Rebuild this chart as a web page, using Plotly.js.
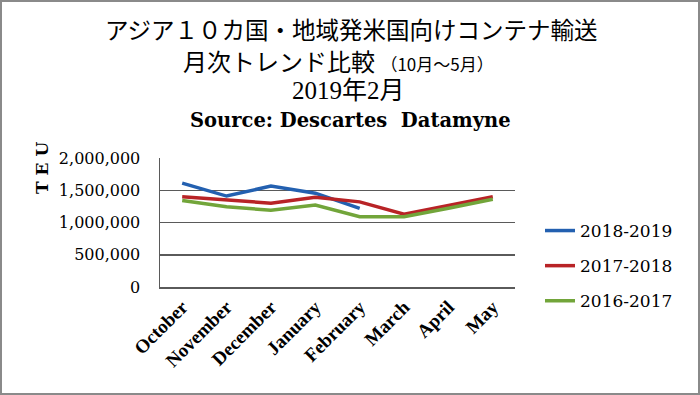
<!DOCTYPE html>
<html>
<head>
<meta charset="utf-8">
<script src="https://cdn.plot.ly/plotly-3.0.1.min.js"></script>
<style>
html,body{margin:0;padding:0;background:#fff;}
#wrap{width:700px;height:395px;box-sizing:border-box;border:2px solid #8a8a8a;background:#fff;}
#chart{width:696px;height:391px;}
</style>
</head>
<body>
<div id="wrap"><div id="chart"></div></div>
<script>
const months = ['October','November','December','January','February','March','April','May'];
const seriesNames = ['2018-2019','2017-2018','2016-2017'];
const s2018_2019 = [1610000, 1410000, 1565000, 1455000, 1220000];
const s2017_2018 = [1400000, 1350000, 1300000, 1390000, 1320000, 1130000, 1270000, 1400000];
const s2016_2017 = [1340000, 1245000, 1190000, 1270000, 1090000, 1090000, 1220000, 1360000];
const yTicks = [0, 500000, 1000000, 1500000, 2000000];
const titleLines = [
  'アジア１０カ国・地域発米国向けコンテナ輸送',
  '月次トレンド比較 <span style="font-size:17px">（10月～5月）</span>',
  '2019年2月',
  '<b>Source: Descartes  Datamyne</b>'
];

const colors = ['#2360b0', '#b82326', '#72a53a'];
const data = [s2018_2019, s2017_2018, s2016_2017];

const W = 696, H = 391;
const M = {l:158, r:183, t:156, b:106};
const pw = W - M.l - M.r, ph = H - M.t - M.b;
const px = x => (x - M.l) / pw;
const py = y => (H - M.b - y) / ph;

const traces = data.map((vals, i) => ({
  type: 'scatter', mode: 'lines',
  x: months.slice(0, vals.length), y: vals,
  name: seriesNames[i], legendgroup: 'g' + i,
  line: {color: colors[i], width: 3.5},
  hoverinfo: 'skip'
}));

const titleFonts = [
  {family: '"Noto Sans CJK JP", sans-serif', size: 23.5, color: '#000'},
  {family: '"Noto Sans CJK JP", sans-serif', size: 24, color: '#000'},
  {family: '"Liberation Serif", "Noto Sans CJK JP", serif', size: 25, color: '#000'},
  {family: '"DejaVu Serif", serif', size: 19.5, color: '#000'}
];
const titleY = [27, 58, 88, 118];
const titleX = [349, 336, 346, 348];

const annotations = titleLines.map((t, i) => ({
  text: t, xref: 'paper', yref: 'paper',
  x: px(titleX[i]), y: py(titleY[i]), xanchor: 'center', yanchor: 'middle',
  showarrow: false, font: titleFonts[i]
}));
annotations.push({
  text: '<b>T E U</b>', xref: 'paper', yref: 'paper',
  x: px(40), y: py(166), xanchor: 'center', yanchor: 'middle',
  textangle: -90, showarrow: false,
  font: {family: '"DejaVu Serif", serif', size: 17, color: '#000'}
});

const layout = {
  width: W, height: H,
  margin: M,
  paper_bgcolor: '#fff', plot_bgcolor: '#fff',
  showlegend: true,
  legend: {
    x: 538 / W, y: 1 - 211 / H, xref: 'container', yref: 'container',
    xanchor: 'left', yanchor: 'top',
    traceorder: 'grouped', tracegroupgap: 10,
    font: {family: '"DejaVu Serif", serif', size: 17, color: '#000'},
    bgcolor: 'rgba(0,0,0,0)'
  },
  xaxis: {
    type: 'category', categoryorder: 'array', categoryarray: months,
    range: [-0.5, months.length - 0.5],
    tickangle: -45, showgrid: false, zeroline: false,
    showline: true, linecolor: '#5a5a5a', linewidth: 1.5,
    ticks: '', fixedrange: true,
    tickfont: {family: '"Liberation Serif", serif', size: 19, color: '#000', weight: 'bold'}
  },
  yaxis: {
    range: [0, 2000000], tickvals: yTicks, tickformat: ',d',
    showgrid: true, gridcolor: '#5a5a5a', gridwidth: 1.5,
    zeroline: false, showline: true, linecolor: '#5a5a5a', linewidth: 1.5,
    ticks: '', ticklabelstandoff: 15, fixedrange: true,
    tickfont: {family: '"DejaVu Serif", serif', size: 16, color: '#000'}
  },
  annotations: annotations
};

Plotly.newPlot('chart', traces, layout, {displayModeBar: false, staticPlot: true});
</script>
</body>
</html>
